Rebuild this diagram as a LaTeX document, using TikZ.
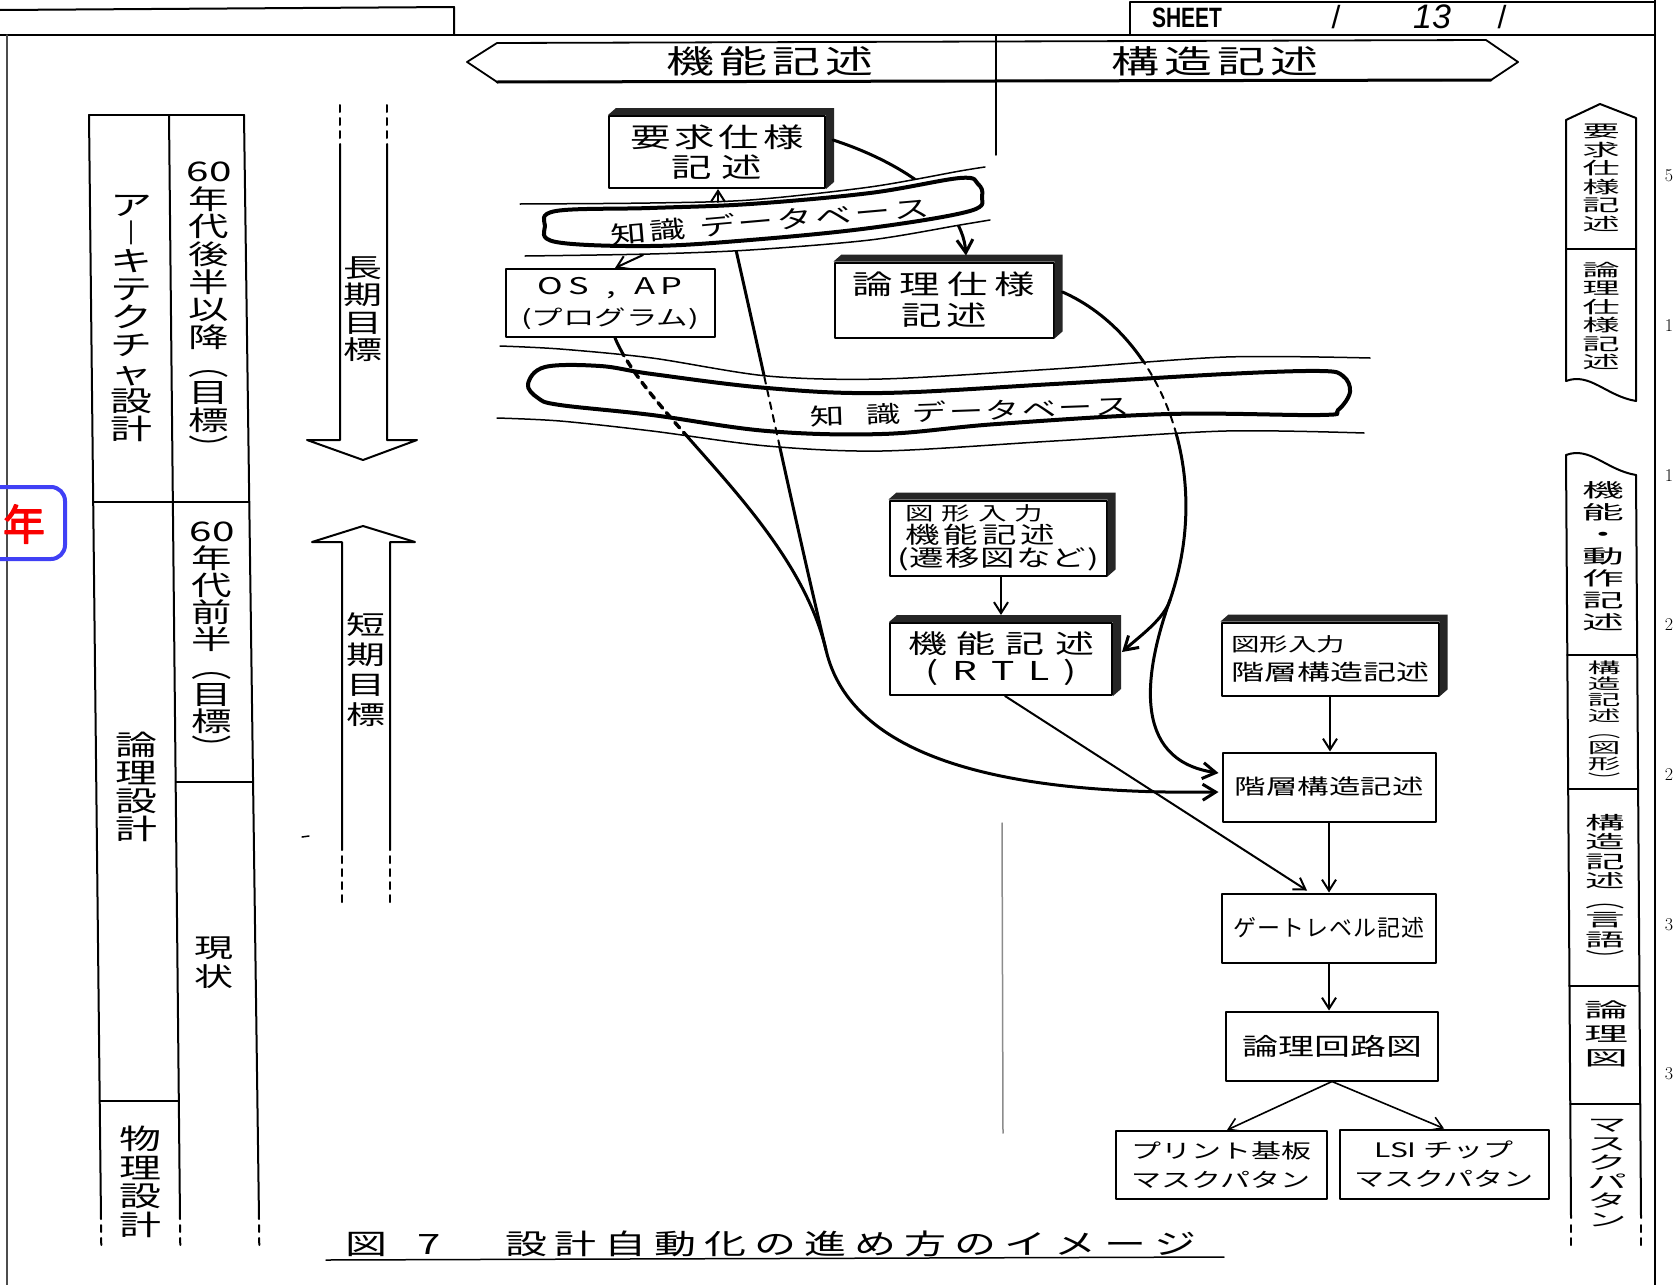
\documentclass[tikz,border=0pt]{standalone}
\usepackage{fontspec}
\usepackage{graphicx}
\usetikzlibrary{arrows.meta,calc}
\newfontfamily\jp[FakeStretch=1.5]{Noto Sans CJK JP}
\newfontfamily\jpw[FakeStretch=2.2]{Noto Sans CJK JP}
\newfontfamily\jpn{Noto Sans CJK JP}
\newfontfamily\jpb[FakeBold=3]{Noto Sans CJK JP}
\newfontfamily\lib{Liberation Sans}
\definecolor{bluebox}{RGB}{64,64,245}
\definecolor{redtxt}{RGB}{250,0,0}
\newcommand\jsp[2]{\def\jspc{\hspace{#1}}\jspfirst#2\relax}
\def\jspfirst#1{#1\jsprest}
\def\jsprest#1{\ifx#1\relax\else\jspc#1\expandafter\jsprest\fi}
\newcommand\vtext[2]{\vbox{\baselineskip=#1\lineskiplimit=-1000pt\lineskip=0pt\halign{\hfil##\hfil\cr#2\crcr}}}
\newcommand\depthbox[1]{\fill[black!85] (#1.north west) -- ($(#1.north west)+(8,-7)$) -- ($(#1.north east)+(8,-7)$) -- ($(#1.south east)+(8,-7)$) -- (#1.south east) -- (#1.north east) -- cycle;}
\begin{document}
\begin{tikzpicture}[x=1pt,y=-1pt,line join=round,line cap=round,
  ln/.style={line width=2pt},
  tl/.style={line width=1.5pt},
  box/.style={draw,line width=2pt,fill=white,inner sep=0pt,align=center},
  arr/.style={line width=2pt,-{Straight Barb[length=11pt,width=14pt]}},
  carr/.style={line width=3pt,-{Straight Barb[length=13pt,width=16pt]}},
  cl/.style={line width=3pt},
  dsh/.style={dash pattern=on 7pt off 6pt},
  vt/.style={inner sep=0pt}]
\useasboundingbox (0,0) rectangle (1676,1285);
\fill[white] (0,0) rectangle (1676,1285);

% ---------- frame ----------
\draw[ln] (0,35) -- (1655,35);
\draw[ln] (0,10) -- (454,7) -- (454,35);
\draw[ln] (1130,35) -- (1130,2) -- (1655,2);
\draw[ln] (1655,0) -- (1655,1285);
\draw[tl,black!70] (7,35) -- (7,1285);
\node[font=\lib\bfseries\fontsize{28}{28}\selectfont] (sheet) at (1187,18) {\scalebox{0.75}[1]{SHEET}};
\node[font=\lib\fontsize{32}{32}\selectfont] (sl1) at (1336,17) {/};
\node[font=\lib\itshape\fontsize{34}{34}\selectfont] (num) at (1432,17) {13};
\node[font=\lib\fontsize{32}{32}\selectfont] (sl2) at (1502,17) {/};
\foreach \yy/\dd [count=\i] in {176/5,326/1,476/1,625/2,775/2,925/3,1074/3}
  \node[font=\rmfamily\fontsize{18}{18}\selectfont] (mg\i) at (1669,\yy) {\dd};

% red/blue mark
\draw[line width=4pt,bluebox,rounded corners=14pt] (-40,487) rectangle (65,559);
\node[font=\jpb\fontsize{42}{42}\selectfont,text=redtxt] (nen) at (24,524) {年};

% ---------- top band ----------
\draw[line width=1.8pt] (467,62) -- (497,43) -- (1486,40) -- (1518,62) -- (1491,80) -- (497,82) -- cycle;
\draw[line width=3pt] (497,82) -- (1491,80);
\draw[tl] (996,35) -- (996,155);
\node[font=\jp\fontsize{32}{32}\selectfont] (fdesc) at (770,61) {\jsp{5pt}{機能記述}};
\node[font=\jp\fontsize{32}{32}\selectfont] (sdesc) at (1215,61) {\jsp{5pt}{構造記述}};
\draw[line width=1.5pt,black!45] (1002,823) -- (1003,1133);

% ---------- left table ----------
\draw[ln] (89,115) -- (244,115);
\draw[ln] (89,115) -- (101,1219);
\draw[ln] (169,115) -- (180,1219);
\draw[ln] (244,115) -- (259,1219);
\draw[ln,dsh] (101,1225) -- (101.3,1247);
\draw[ln,dsh] (180,1225) -- (180.3,1247);
\draw[ln,dsh] (259,1225) -- (259.3,1247);
\draw[tl] (93,502) -- (249,502);
\draw[tl] (176,782) -- (253,782);
\draw[tl] (100,1101) -- (179,1101);
\node[vt,font=\jp\fontsize{28}{28}\selectfont] (arch) at (131,318) {\vtext{28pt}{ア\cr ︱\cr キ\cr テ\cr ク\cr チ\cr ャ\cr 設\cr 計}};
\node[vt,font=\jp\fontsize{27}{27}\selectfont] (late) at (209,310) {\vtext{27.7pt}{60\cr 年\cr 代\cr 後\cr 半\cr 以\cr 降\cr ︵\cr 目\cr 標\cr ︶}};
\node[vt,font=\jp\fontsize{27}{27}\selectfont] (early) at (212,640) {\vtext{27.2pt}{60\cr 年\cr 代\cr 前\cr 半\cr ︵\cr 目\cr 標\cr ︶}};
\node[vt,font=\jp\fontsize{26}{26}\selectfont] (now) at (214,963) {\vtext{29pt}{現\cr 状}};
\node[vt,font=\jp\fontsize{28}{28}\selectfont] (logic) at (136,787) {\vtext{28pt}{論\cr 理\cr 設\cr 計}};
\node[vt,font=\jp\fontsize{28}{28}\selectfont] (phys) at (140,1182) {\vtext{28.5pt}{物\cr 理\cr 設\cr 計}};

% long / short term arrows
\draw[ln] (340,144) -- (340,440) -- (307,440) -- (363,460) -- (417,440) -- (387,440) -- (387,144);
\draw[ln,dsh] (340,105) -- (340,140);
\draw[ln,dsh] (387,105) -- (387,140);
\draw[ln] (342,850) -- (342,542) -- (312,542) -- (363,526) -- (415,542) -- (390,542) -- (390,850);
\draw[ln,dsh] (342,856) -- (342,903);
\draw[ln,dsh] (390,856) -- (390,903);
\node[vt,font=\jp\fontsize{26}{26}\selectfont] (longt) at (363,309) {\vtext{27.5pt}{長\cr 期\cr 目\cr 標}};
\node[vt,font=\jp\fontsize{26}{26}\selectfont] (shortt) at (366,670) {\vtext{30pt}{短\cr 期\cr 目\cr 標}};
\draw[tl] (302,837) -- (309,836);

% ---------- right column ----------
\draw[ln] (1566,381) -- (1566,120) -- (1600,104) -- (1636,118) -- (1636,401);
\draw[ln] (1566,381) .. controls (1590,372) and (1606,396) .. (1636,401);
\draw[tl] (1566,249) -- (1636,249);
\draw[ln] (1566,455) .. controls (1590,446) and (1606,470) .. (1636,475);
\draw[ln] (1566,455) -- (1571,1218);
\draw[ln] (1636,475) -- (1641,1218);
\draw[ln,dsh] (1571,1225) -- (1571,1247);
\draw[ln,dsh] (1641,1225) -- (1641,1247);
\draw[tl] (1567,655) -- (1637,655);
\draw[tl] (1568,789) -- (1638,789);
\draw[tl] (1569,986) -- (1639,986);
\draw[tl] (1570,1104) -- (1640,1104);
\node[vt,font=\jpw\fontsize{17}{17}\selectfont] (rq) at (1601,178) {\vtext{18.5pt}{要\cr 求\cr 仕\cr 様\cr 記\cr 述}};
\node[vt,font=\jpw\fontsize{17}{17}\selectfont] (ls) at (1601,316) {\vtext{18.5pt}{論\cr 理\cr 仕\cr 様\cr 記\cr 述}};
\node[vt,font=\jpw\fontsize{19}{19}\selectfont] (fa) at (1603,556) {\vtext{22pt}{機\cr 能\cr ・\cr 動\cr 作\cr 記\cr 述}};
\node[vt,font=\jpw\fontsize{15}{15}\selectfont] (sg) at (1604,723) {\vtext{16pt}{構\cr 造\cr 記\cr 述\cr ︵\cr 図\cr 形\cr ︶}};
\node[vt,font=\jpw\fontsize{18}{18}\selectfont] (sl) at (1605,890) {\vtext{19.5pt}{構\cr 造\cr 記\cr 述\cr ︵\cr 言\cr 語\cr ︶}};
\node[vt,font=\jpw\fontsize{20}{20}\selectfont] (lz) at (1606,1034) {\vtext{24pt}{論\cr 理\cr 図}};
\node[vt,font=\jpw\fontsize{18}{18}\selectfont] (mp) at (1607,1173) {\vtext{19pt}{マ\cr ス\cr ク\cr パ\cr タ\cr ン}};

% ---------- boxes ----------
\node[box,minimum width=216pt,minimum height=72pt,font=\jp\fontsize{27}{30}\selectfont] (req) at (717,152) {\jsp{4pt}{要求仕様}\\\jsp{10pt}{記述}};
\depthbox{req}
\node[box,minimum width=209pt,minimum height=68pt,font=\jp\fontsize{23}{31}\selectfont] (os) at (610,303) {\jsp{5pt}{OS~,~AP}\\{\fontsize{21}{21}\selectfont(プログラム)}};
\node[box,minimum width=219pt,minimum height=75pt,font=\jp\fontsize{27}{31}\selectfont] (lspec) at (944,300) {\jsp{7pt}{論理仕様}\\\jsp{5pt}{記述}};
\depthbox{lspec}
\node[box,minimum width=217pt,minimum height=75pt,align=left,font=\jp\fontsize{23}{23}\selectfont] (gin1) at (998,538) {\hspace{8pt}{\fontsize{19}{23}\selectfont\jsp{8pt}{図形入力}}\\\hspace{8pt}\jsp{4pt}{機能記述}\\\jsp{1pt}{(遷移図など)}};
\depthbox{gin1}
\node[box,minimum width=222pt,minimum height=72pt,font=\jp\fontsize{26}{27}\selectfont] (rtl) at (1001,659) {\jsp{10pt}{機能記述}\\\jsp{14pt}{(RTL)}};
\depthbox{rtl}
\node[box,minimum width=217pt,minimum height=73pt,align=left,font=\jp\fontsize{22}{29}\selectfont] (gin2) at (1330,659) {{\fontsize{19}{29}\selectfont 図形入力}\\階層構造記述};
\depthbox{gin2}
\node[box,minimum width=213pt,minimum height=69pt,font=\jp\fontsize{21}{21}\selectfont] (hier) at (1329,787) {階層構造記述};
\node[box,minimum width=214pt,minimum height=69pt,font=\jpn\fontsize{23}{23}\selectfont] (gate) at (1329,928) {\jsp{1pt}{ゲートレベル記述}};
\node[box,minimum width=212pt,minimum height=69pt,font=\jp\fontsize{24}{24}\selectfont] (lcirc) at (1332,1046) {論理回路図};
\node[box,minimum width=211pt,minimum height=68pt,font=\jp\fontsize{20}{29}\selectfont] (pcb) at (1221,1165) {プリント基板\\マスクパタン};
\node[box,minimum width=209pt,minimum height=69pt,font=\jp\fontsize{20}{29}\selectfont] (lsi) at (1444,1164) {LSI~チップ\\マスクパタン};

% ---------- connectors ----------
\coordinate (m) at (826,650);
\coordinate (sp) at (1170,600);
\coordinate (t1) at (718,202);
\coordinate (t2) at (643,255);
\coordinate (t3) at (736,250);
\draw[carr] ($(req.east)+(7,-12)$) .. controls (895,160) and (962,200) .. ($(lspec.north)+(22,-6)$);
\draw[cl] (t3) .. controls (770,400) and (795,520) .. (m);
\draw[carr] ($(os.south)+(5,0)$) .. controls (650,420) and (795,520) .. (m) .. controls (851,757) and (1000,795) .. ($(hier.west)+(-3,5)$);
\draw[cl] ($(lspec.east)+(8,-8)$) .. controls (1160,335) and (1215,470) .. (sp);
\draw[carr] (sp) .. controls (1164,619) and (1140,636) .. ($(rtl.east)+(9,-7)$);
\draw[carr] (sp) .. controls (1145,670) and (1130,760) .. ($(hier.west)+(-3,-14)$);

% channels (white)
\fill[white] (520,204) -- (650,203) -- (750,200) -- (870,187) -- (960,171) -- (985,167) -- (990,220) -- (960,225) -- (870,240) -- (750,250) -- (650,254) -- (525,256) -- cycle;
\fill[white] (500,346) -- (560,349) -- (652,358) -- (767,376) -- (882,379) -- (1054,369) -- (1226,357) -- (1370,358) -- (1364,433) -- (1226,431) -- (1054,441) -- (882,451) -- (767,446) -- (652,431) -- (560,421) -- (497,418) -- cycle;
\begin{scope}
\clip (500,346) -- (560,349) -- (652,358) -- (767,376) -- (882,379) -- (1054,369) -- (1226,357) -- (1370,358) -- (1364,433) -- (1226,431) -- (1054,441) -- (882,451) -- (767,446) -- (652,431) -- (560,421) -- (497,418) -- cycle;
\draw[line width=3.5pt,dsh] ($(os.south)+(5,0)$) .. controls (650,420) and (795,520) .. (m);
\draw[line width=2pt,dsh] (t3) .. controls (770,400) and (795,520) .. (m);
\draw[line width=2pt,dsh] ($(lspec.east)+(8,-8)$) .. controls (1160,335) and (1215,470) .. (sp);
\end{scope}

% small knowledge database
\draw[line width=4pt,fill=white] plot[smooth cycle,tension=0.6] coordinates {(545,226) (556,211) (650,208) (750,204) (870,193) (960,178) (978,184) (982,196) (970,211) (870,228) (750,240) (650,246) (556,242)};
\draw[tl] plot[smooth] coordinates {(520,204) (650,203) (750,200) (870,187) (960,171) (985,167)};
\draw[tl] plot[smooth] coordinates {(525,256) (650,254) (750,250) (870,240) (960,225) (990,220)};
\node[vt,rotate=5,font=\jp\fontsize{24}{24}\selectfont] (kdb1) at (770,221) {\jsp{3pt}{知識~データベース}};

% large knowledge database
\draw[line width=4pt] plot[smooth cycle,tension=0.6] coordinates {(528,384) (545,367) (600,366) (652,374) (767,388) (882,393) (1054,384) (1226,374) (1320,371) (1343,376) (1350,392) (1338,410) (1320,415) (1169,414) (997,424) (882,434) (767,431) (652,415) (560,405) (538,398)};
\draw[tl] plot[smooth] coordinates {(500,346) (560,349) (652,358) (767,376) (882,379) (1054,369) (1226,357) (1370,358)};
\draw[tl] plot[smooth] coordinates {(497,418) (560,421) (652,431) (767,446) (882,451) (1054,441) (1226,431) (1364,433)};
\node[vt,rotate=2,font=\jp\fontsize{23}{23}\selectfont] (kdb2) at (970,411) {\jsp{2pt}{知~~識~データベース}};

% short arrows
\draw[arr] (t1) -- (t1 |- req.south);
\draw[arr] (t2) -- ($(os.north)+(5,0)$);
\draw[arr] ($(gin1.south)+(3,0)$) -- ($(rtl.north)+(0,-7)$);
\draw[arr] (gin2.south) -- (gin2.south |- hier.north);
\draw[arr] (hier.south) -- (hier.south |- gate.north);
\draw[arr] (gate.south) -- (gate.south |- lcirc.north);
\draw[arr,line width=1.6pt] (lcirc.south) -- ($(pcb.north)+(6,0)$);
\draw[arr,line width=1.6pt] (lcirc.south) -- (lsi.north);
\draw[arr] ($(rtl.south)+(4,0)$) -- ($(gate.north)+(-22,-2)$);

% caption
\node[font=\jp\fontsize{28}{28}\selectfont] (cap1) at (393,1244) {\jsp{30pt}{図7}};
\node[font=\jp\fontsize{28}{28}\selectfont] (cap2) at (851,1244) {\jsp{8pt}{設計自動化の進め方のイメージ}};
\draw[tl] (326,1260) -- (1224,1257);
\end{tikzpicture}
\end{document}
